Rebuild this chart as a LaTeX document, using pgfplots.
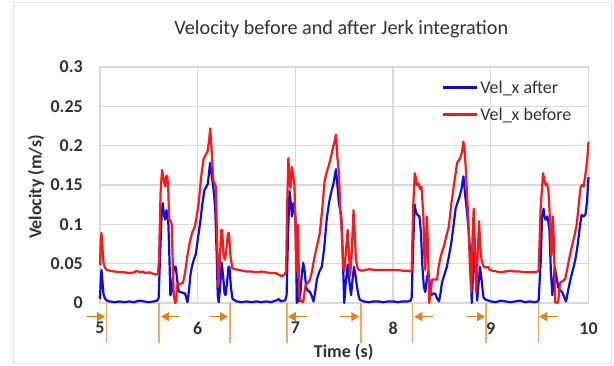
\documentclass[border=0pt]{standalone}
\usepackage{pgfplots}
\pgfplotsset{compat=1.18}
\usepackage{fontspec}
\setmainfont{Carlito}
\usetikzlibrary{arrows.meta}
\definecolor{velblue}{RGB}{12,12,228}
\definecolor{velred}{RGB}{255,22,22}
\definecolor{gridgray}{RGB}{217,217,217}
\definecolor{txt}{RGB}{50,50,50}
\definecolor{arrowor}{RGB}{230,128,28}
\definecolor{lineor}{RGB}{242,168,100}
\begin{document}
\begin{tikzpicture}
\useasboundingbox (0,0) rectangle (614pt,365pt);
\draw[gray!22, line width=0.8pt] (13pt,2pt) rectangle (611pt,363pt);
\begin{axis}[
  at={(100pt,62pt)}, anchor=south west,
  scale only axis, width=488.5pt, height=236pt,
  xmin=5, xmax=10, ymin=0, ymax=0.3,
  xtick={5,6,7,8,9,10},
  ytick={0,0.05,0.1,0.15,0.2,0.25,0.3},
  yticklabels={0,0.05,0.1,0.15,0.2,0.25,0.3},
  xticklabels={5,6,7,8,9,10},
  major tick length=0pt,
  grid=major,
  major grid style={gridgray, line width=1.3pt},
  axis line style={draw=gridgray, line width=1.3pt},
  tick label style={font=\fontsize{18}{20}\selectfont\bfseries, text=txt},
  /pgf/number format/assume math mode=true,
  yticklabel style={anchor=east, inner sep=0pt, xshift=-17pt},
  xticklabel style={anchor=north, inner sep=0pt, yshift=-19pt},
  title={Velocity before and after Jerk integration},
  title style={at={(axis description cs:0.494,1.136)}, anchor=center, yshift=0pt, font=\fontsize{20.2}{22}\selectfont, text=txt},
  xlabel={Time (s)},
  xlabel style={at={(axis description cs:0.4987,-0.2076)}, anchor=center, font=\fontsize{18}{20}\selectfont\bfseries, text=txt},
  ylabel={Velocity (m/s)},
  ylabel style={at={(axis description cs:-0.131,0.4915)}, anchor=center, rotate=0, font=\fontsize{18}{20}\selectfont\bfseries, text=txt},
  legend style={at={(axis description cs:0.70,0.952)}, anchor=north west, draw=none, fill=none,
    font=\fontsize{18}{20}\selectfont, text=txt, row sep=9pt, inner sep=0pt,
    nodes={inner sep=2pt}},
  legend cell align=left,
  legend image code/.code={\draw[#1] (0pt,0pt) -- (34pt,0pt);},
  clip=false,
  every axis plot/.append style={line width=2.2pt, line join=round},
]
\addplot[velblue, mark=none] coordinates {
(5.000,0.005)(5.008,0.030)(5.015,0.042)(5.025,0.028)(5.035,0.012)(5.05,0.006)(5.07,0.003)(5.10,0.002)
(5.15,0.001)(5.20,0.002)(5.25,0.001)(5.30,0.002)(5.35,0.001)(5.40,0.003)(5.45,0.002)(5.50,0.001)
(5.55,0.002)(5.585,0.003)(5.60,0.006)(5.615,0.060)(5.630,0.110)(5.642,0.127)(5.655,0.112)(5.666,0.106)
(5.680,0.118)(5.690,0.112)(5.700,0.100)(5.710,0.060)(5.720,0.010)(5.735,0.015)(5.750,0.040)(5.762,0.046)
(5.775,0.046)(5.790,0.030)(5.805,0.015)(5.82,0.014)(5.85,0.013)(5.87,0.012)(5.885,0.006)(5.895,0.001)
(5.91,0.015)(5.925,0.035)(5.94,0.046)(5.96,0.055)(5.98,0.062)(6.00,0.080)(6.025,0.102)(6.05,0.128)
(6.07,0.144)(6.09,0.148)(6.105,0.152)(6.115,0.165)(6.127,0.178)(6.14,0.165)(6.155,0.152)(6.17,0.135)
(6.18,0.118)(6.195,0.060)(6.205,0.010)(6.215,0.001)(6.23,0.020)(6.245,0.051)(6.26,0.035)(6.275,0.012)
(6.285,0.010)(6.30,0.025)(6.315,0.046)(6.325,0.046)(6.34,0.020)(6.355,0.006)(6.37,0.004)(6.40,0.002)
(6.45,0.001)(6.50,0.002)(6.55,0.001)(6.60,0.002)(6.65,0.001)(6.70,0.002)(6.75,0.001)(6.80,0.003)
(6.83,0.005)(6.85,0.002)(6.88,0.003)(6.895,0.003)(6.91,0.010)(6.925,0.090)(6.94,0.142)(6.955,0.125)
(6.965,0.110)(6.98,0.127)(6.99,0.118)(7.00,0.110)(7.008,0.060)(7.015,0.000)(7.025,0.030)(7.035,0.002)
(7.05,0.010)(7.065,0.035)(7.08,0.051)(7.095,0.040)(7.11,0.020)(7.125,0.016)(7.15,0.014)(7.17,0.008)
(7.185,0.002)(7.20,0.012)(7.22,0.030)(7.245,0.040)(7.27,0.046)(7.295,0.070)(7.32,0.106)(7.345,0.128)
(7.365,0.140)(7.39,0.152)(7.415,0.170)(7.43,0.150)(7.445,0.127)(7.47,0.110)(7.485,0.060)(7.50,0.000)
(7.515,0.025)(7.535,0.049)(7.55,0.030)(7.57,0.010)(7.585,0.030)(7.60,0.046)(7.615,0.035)(7.63,0.021)
(7.645,0.010)(7.66,0.004)(7.70,0.002)(7.75,0.001)(7.80,0.002)(7.85,0.002)(7.90,0.001)(7.95,0.002)
(8.00,0.002)(8.05,0.001)(8.10,0.002)(8.15,0.002)(8.18,0.003)(8.19,0.007)(8.205,0.070)(8.22,0.125)
(8.235,0.115)(8.25,0.112)(8.27,0.110)(8.285,0.090)(8.30,0.046)(8.315,0.020)(8.33,0.014)(8.345,0.030)
(8.36,0.040)(8.375,0.025)(8.39,0.010)(8.41,0.012)(8.43,0.012)(8.45,0.006)(8.47,0.002)(8.485,0.012)
(8.50,0.026)(8.525,0.036)(8.55,0.046)(8.575,0.062)(8.60,0.080)(8.62,0.100)(8.64,0.120)(8.66,0.128)
(8.68,0.135)(8.70,0.145)(8.72,0.161)(8.735,0.140)(8.755,0.118)(8.775,0.090)(8.79,0.060)(8.805,0.000)
(8.82,0.040)(8.835,0.072)(8.85,0.030)(8.86,0.003)(8.875,0.025)(8.89,0.046)(8.905,0.030)(8.925,0.007)
(8.95,0.004)(8.98,0.003)(9.00,0.002)(9.05,0.001)(9.10,0.003)(9.15,0.002)(9.20,0.001)(9.25,0.002)
(9.30,0.003)(9.35,0.001)(9.40,0.002)(9.45,0.001)(9.48,0.002)(9.49,0.004)(9.51,0.050)(9.525,0.110)
(9.54,0.120)(9.55,0.110)(9.56,0.106)(9.58,0.110)(9.60,0.093)(9.615,0.040)(9.63,0.010)(9.645,0.030)
(9.655,0.045)(9.67,0.035)(9.69,0.020)(9.71,0.016)(9.73,0.014)(9.75,0.008)(9.77,0.002)(9.79,0.015)
(9.815,0.030)(9.84,0.042)(9.865,0.055)(9.885,0.070)(9.90,0.085)(9.915,0.100)(9.93,0.112)(9.95,0.110)
(9.97,0.113)(9.985,0.130)(10.00,0.160)
};
\addlegendentry{Vel\_x after}
\addplot[velred, mark=none] coordinates {
(5.000,0.048)(5.008,0.080)(5.015,0.089)(5.025,0.070)(5.035,0.052)(5.05,0.045)(5.07,0.042)(5.10,0.041)
(5.15,0.040)(5.20,0.039)(5.25,0.039)(5.30,0.038)(5.35,0.039)(5.375,0.041)(5.39,0.040)(5.41,0.039)
(5.44,0.040)(5.46,0.038)(5.50,0.039)(5.55,0.037)(5.58,0.036)(5.595,0.038)(5.605,0.060)(5.62,0.140)
(5.635,0.169)(5.648,0.160)(5.666,0.148)(5.68,0.162)(5.69,0.160)(5.70,0.140)(5.707,0.106)(5.72,0.105)
(5.734,0.100)(5.745,0.050)(5.755,0.010)(5.768,0.000)(5.78,0.002)(5.79,0.023)(5.82,0.024)(5.85,0.026)
(5.87,0.038)(5.895,0.060)(5.92,0.078)(5.945,0.090)(5.97,0.097)(5.99,0.110)(6.01,0.127)(6.035,0.160)
(6.06,0.183)(6.08,0.188)(6.10,0.192)(6.115,0.205)(6.128,0.222)(6.14,0.200)(6.16,0.156)(6.185,0.148)
(6.197,0.090)(6.21,0.021)(6.225,0.050)(6.24,0.093)(6.25,0.093)(6.265,0.060)(6.28,0.055)(6.295,0.070)
(6.31,0.089)(6.32,0.089)(6.335,0.060)(6.355,0.044)(6.38,0.043)(6.42,0.042)(6.46,0.041)(6.50,0.040)
(6.55,0.040)(6.60,0.039)(6.65,0.040)(6.70,0.039)(6.75,0.038)(6.80,0.038)(6.83,0.036)(6.86,0.034)
(6.885,0.036)(6.905,0.040)(6.915,0.120)(6.928,0.184)(6.94,0.160)(6.95,0.146)(6.965,0.173)(6.98,0.160)
(6.99,0.150)(7.00,0.106)(7.008,0.040)(7.018,0.100)(7.028,0.097)(7.038,0.010)(7.05,0.003)(7.08,0.001)
(7.095,0.015)(7.105,0.023)(7.13,0.026)(7.15,0.030)(7.17,0.040)(7.19,0.055)(7.22,0.072)(7.25,0.089)
(7.275,0.120)(7.30,0.156)(7.325,0.168)(7.345,0.176)(7.365,0.186)(7.38,0.195)(7.40,0.205)(7.415,0.214)
(7.43,0.185)(7.445,0.165)(7.46,0.118)(7.475,0.090)(7.49,0.046)(7.50,0.040)(7.52,0.070)(7.535,0.093)
(7.55,0.060)(7.56,0.034)(7.575,0.060)(7.595,0.118)(7.61,0.080)(7.62,0.055)(7.635,0.045)(7.65,0.042)
(7.68,0.041)(7.72,0.042)(7.76,0.043)(7.80,0.042)(7.85,0.042)(7.90,0.042)(7.95,0.042)(8.00,0.042)
(8.05,0.042)(8.10,0.041)(8.15,0.041)(8.18,0.040)(8.19,0.042)(8.205,0.120)(8.222,0.165)(8.235,0.158)
(8.245,0.150)(8.26,0.152)(8.275,0.145)(8.29,0.148)(8.30,0.130)(8.31,0.110)(8.32,0.060)(8.33,0.042)
(8.345,0.110)(8.355,0.080)(8.37,0.000)(8.385,0.015)(8.40,0.030)(8.425,0.030)(8.45,0.030)(8.465,0.045)
(8.48,0.055)(8.50,0.065)(8.52,0.072)(8.545,0.085)(8.57,0.097)(8.595,0.125)(8.62,0.148)(8.64,0.165)
(8.655,0.178)(8.675,0.182)(8.69,0.185)(8.705,0.192)(8.72,0.205)(8.735,0.190)(8.745,0.169)(8.76,0.130)
(8.77,0.106)(8.785,0.050)(8.80,0.014)(8.812,0.080)(8.825,0.120)(8.838,0.070)(8.85,0.014)(8.865,0.060)
(8.88,0.104)(8.893,0.070)(8.905,0.055)(8.92,0.048)(8.94,0.045)(8.97,0.046)(8.99,0.042)(9.02,0.041)
(9.06,0.040)(9.10,0.039)(9.15,0.040)(9.20,0.041)(9.25,0.040)(9.30,0.040)(9.35,0.039)(9.40,0.039)
(9.45,0.039)(9.48,0.040)(9.49,0.042)(9.51,0.120)(9.535,0.165)(9.55,0.155)(9.56,0.150)(9.575,0.152)
(9.59,0.142)(9.60,0.120)(9.61,0.093)(9.62,0.060)(9.635,0.110)(9.645,0.080)(9.66,0.001)(9.675,0.000)
(9.69,0.001)(9.70,0.015)(9.71,0.026)(9.735,0.028)(9.76,0.030)(9.78,0.042)(9.80,0.055)(9.83,0.072)
(9.855,0.085)(9.88,0.100)(9.90,0.125)(9.92,0.148)(9.935,0.150)(9.95,0.148)(9.965,0.160)(9.985,0.180)
(10.00,0.205)
};
\addlegendentry{Vel\_x before}
% orange markers below the axis
\foreach \xl in {5.0686,5.604,6.331,6.914,7.671,8.20,8.951,9.486}{
  \edef\tmp{\noexpand\draw[lineor, line width=1.3pt] (axis cs:\xl,0) -- (axis cs:\xl,-0.0508);}\tmp
}
\foreach \xa/\xb in {4.864/5.051,5.8086/5.6244,6.126/6.310,7.116/6.924,7.457/7.654,8.406/8.217,8.753/8.941,9.691/9.496}{
  \edef\tmp{\noexpand\draw[arrowor, line width=1.6pt, -{Triangle[length=8pt,width=9pt]}] (axis cs:\xa,-0.0174) -- (axis cs:\xb,-0.0174);}\tmp
}
\end{axis}
\end{tikzpicture}
\end{document}
